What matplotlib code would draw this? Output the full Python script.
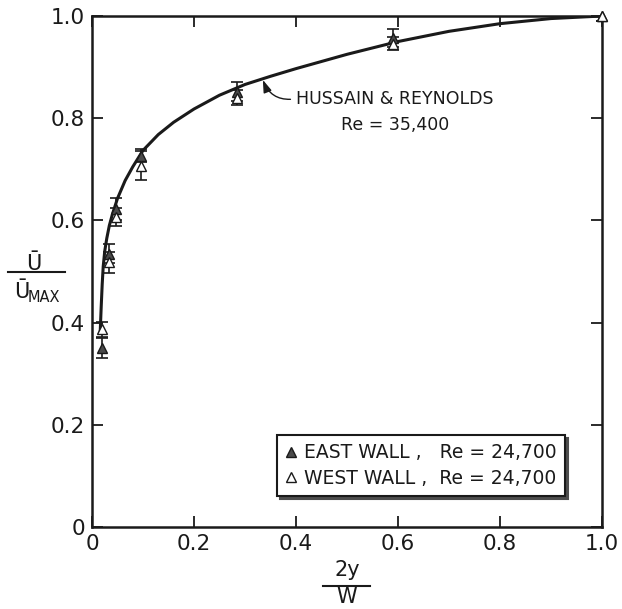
import matplotlib
matplotlib.use("Agg")
import matplotlib.pyplot as plt
from matplotlib.lines import Line2D

# ---- data ----
x_pos = [0.019, 0.033, 0.047, 0.097, 0.284, 0.59, 1.0]
east_y = [0.35, 0.535, 0.622, 0.727, 0.852, 0.957, 1.0]
east_err = [0.02, 0.018, 0.022, 0.013, 0.018, 0.018, 0.01]
west_y = [0.387, 0.518, 0.607, 0.707, 0.84, 0.946, 1.0]
west_err = [0.015, 0.02, 0.017, 0.028, 0.015, 0.012, 0.01]

curve_x = [0.016, 0.018, 0.020, 0.022, 0.025, 0.029, 0.034, 0.040, 0.050, 0.065,
           0.080, 0.100, 0.130, 0.160, 0.200, 0.250, 0.300, 0.350, 0.400, 0.500,
           0.600, 0.700, 0.800, 0.900, 1.000]
curve_y = [0.380, 0.430, 0.475, 0.510, 0.540, 0.565, 0.590, 0.612, 0.643, 0.678,
           0.705, 0.737, 0.768, 0.792, 0.818, 0.845, 0.866, 0.882, 0.897, 0.925,
           0.950, 0.970, 0.985, 0.995, 1.000]

x_ticks = [0, 0.2, 0.4, 0.6, 0.8, 1.0]
x_tick_labels = ["0", "0.2", "0.4", "0.6", "0.8", "1.0"]
y_ticks = [0, 0.2, 0.4, 0.6, 0.8, 1.0]
y_tick_labels = ["0", "0.2", "0.4", "0.6", "0.8", "1.0"]

east_label = "EAST WALL ,   Re = 24,700"
west_label = "WEST WALL ,  Re = 24,700"
curve_label_1 = "HUSSAIN & REYNOLDS"
curve_label_2 = "Re = 35,400"

plt.rcParams['font.family'] = ['DejaVu Sans']
W, H = 622, 609
fig = plt.figure(figsize=(W / 100, H / 100), dpi=100)
ax = fig.add_axes([92 / W, 1 - 527 / H, 510 / W, 511 / H])

ink = '#1a1a1a'
fill = '#4a4a4a'

ax.plot(curve_x, curve_y, color=ink, lw=2.2, zorder=3, solid_capstyle='round')

ax.errorbar(x_pos, east_y, yerr=east_err, fmt='none', ecolor=ink, elinewidth=1.2,
            capsize=4, capthick=1.2, zorder=4)
ax.errorbar(x_pos, west_y, yerr=west_err, fmt='none', ecolor=ink, elinewidth=1.2,
            capsize=4, capthick=1.2, zorder=4)
ax.plot(x_pos, east_y, linestyle='none', marker='^', ms=7.5, mfc=fill, mec=ink,
        mew=1.0, zorder=5, clip_on=False)
ax.plot(x_pos, west_y, linestyle='none', marker='^', ms=7.5, mfc='white', mec=ink,
        mew=1.0, zorder=5, clip_on=False)

ax.set_xlim(0, 1.0)
ax.set_ylim(0, 1.0)
ax.set_xticks(x_ticks)
ax.set_xticklabels(x_tick_labels)
ax.set_yticks(y_ticks)
ax.set_yticklabels(y_tick_labels)
ax.tick_params(direction='in', length=8, width=1.3, colors=ink, labelsize=15.5,
               top=True, right=True, pad=5)
for s in ax.spines.values():
    s.set_linewidth(1.8)
    s.set_color(ink)

# annotation
ax.annotate(curve_label_1, xy=(0.335, 0.875), xytext=(0.40, 0.838),
            ha='left', va='center', fontsize=12.5, color=ink,
            arrowprops=dict(arrowstyle='-|>,head_length=0.6,head_width=0.2',
                            color=ink, lw=1.0, shrinkA=2, shrinkB=0,
                            connectionstyle='arc3,rad=-0.4', relpos=(0, 0.5)))
ax.text(0.594, 0.787, curve_label_2, ha='center', va='center', fontsize=12.5, color=ink)

# legend
h_east = Line2D([], [], linestyle='none', marker='^', ms=6.5, mfc=fill, mec=ink, mew=1.0)
h_west = Line2D([], [], linestyle='none', marker='^', ms=6.5, mfc='white', mec=ink, mew=1.0)
leg = ax.legend([h_east, h_west], [east_label, west_label], loc='upper left',
                bbox_to_anchor=(0.363, 0.18), borderaxespad=0, fancybox=False,
                shadow={'color': '0.3', 'alpha': 1.0}, framealpha=1,
                edgecolor=ink, fontsize=13.5, handlelength=0.6, handletextpad=0.4,
                borderpad=0.45, labelspacing=0.35)
leg.get_frame().set_linewidth(1.5)
for t in leg.get_texts():
    t.set_color(ink)

# y label as fraction
fig.text(34 / W, 1 - 264 / H, "Ū", ha='center', va='center', fontsize=15, color=ink)
fig.add_artist(Line2D([8 / W, 65 / W], [1 - 272 / H, 1 - 272 / H], color=ink, lw=1.5))
fig.text(22 / W, 1 - 292 / H, "Ū", ha='center', va='center', fontsize=15, color=ink)
fig.text(28 / W, 1 - 297 / H, "MAX", ha='left', va='center', fontsize=10.5, color=ink)

# x label as fraction
fig.text(347 / W, 1 - 570 / H, "2y", ha='center', va='center', fontsize=15, color=ink)
fig.add_artist(Line2D([323 / W, 370 / W], [1 - 586 / H, 1 - 586 / H], color=ink, lw=1.5))
fig.text(347 / W, 1 - 597 / H, "W", ha='center', va='center', fontsize=15, color=ink)

fig.savefig("out.png", dpi=100)
